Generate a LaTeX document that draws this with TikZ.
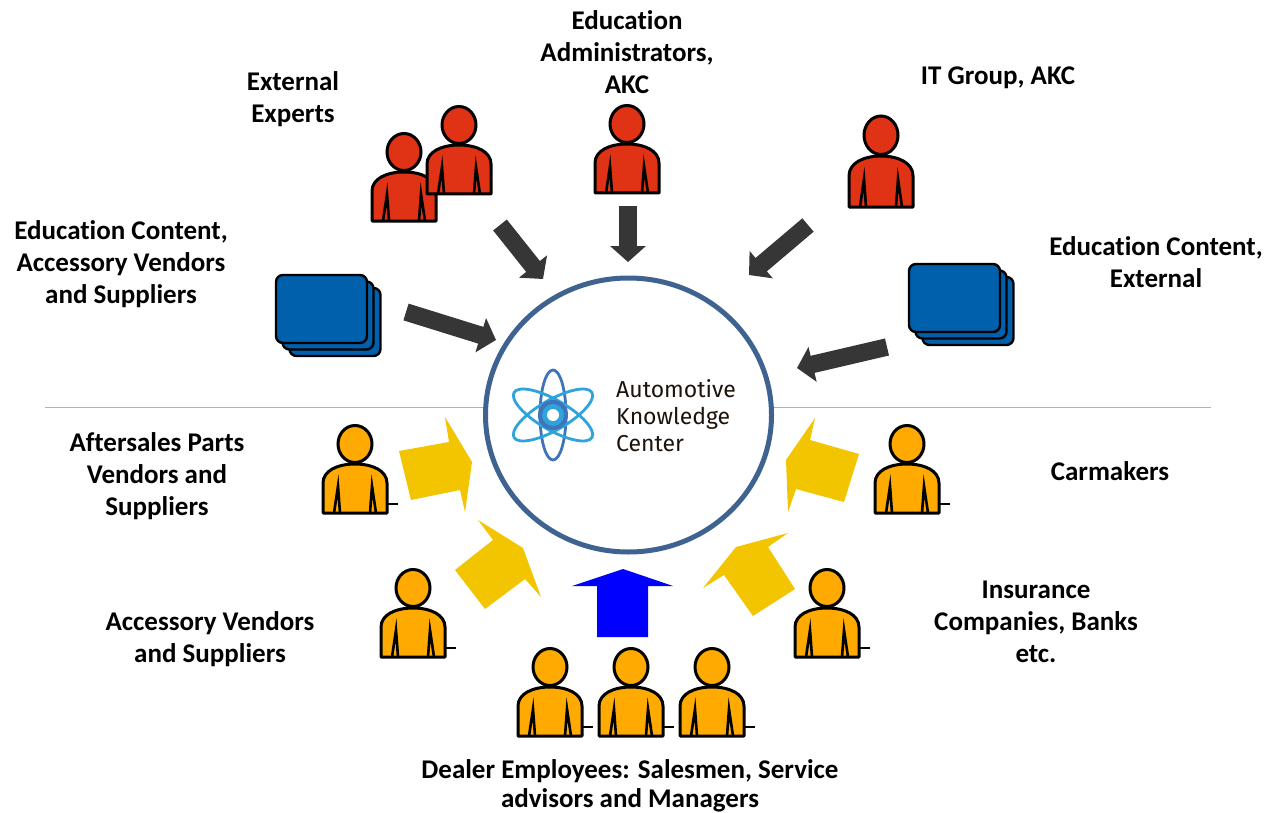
\documentclass[tikz,border=0pt]{standalone}
\usepackage{fontspec}
\usepackage{xcolor}
\setmainfont{Carlito}[Ligatures=NoCommon]
\newfontfamily\logofont{Fira Sans}
\usetikzlibrary{arrows.meta}
\usetikzlibrary{shapes.geometric}

\definecolor{redman}{HTML}{E03214}
\definecolor{orangeman}{HTML}{FFAA00}
\definecolor{cardblue}{HTML}{0060AC}
\definecolor{darkarrow}{HTML}{363636}
\definecolor{yellowarrow}{HTML}{F2C500}
\definecolor{ringblue}{HTML}{3F6391}
\definecolor{atomlight}{HTML}{2EA3DC}
\definecolor{atomdark}{HTML}{3F74B8}

\tikzset{
    label/.style={align=center,font=\fontsize{27}{32}\selectfont\bfseries},
    card/.style={draw=black,line width=2.4pt,fill=cardblue,rounded corners=7pt,minimum width=91pt,minimum height=68pt,inner sep=0pt},
    pushed/.style={-{Triangle[length=16pt,width=35pt]},line width=17.5pt,color=darkarrow},
    feed/.style={fill=yellowarrow,draw=none},
    person/.pic={
        \draw[line width=3pt,fill=#1] (0,-69) ellipse (17 and 18.5);
        \draw[line width=3pt,fill=#1,line join=round] (-32,0) -- (-32,-30) .. controls (-32,-42) and (-18,-49) .. (0,-49)
            .. controls (18,-49) and (32,-42) .. (32,-30) -- (32,0) -- cycle;
        \draw[line width=2.6pt] (-21,0) -- (-17,-27) -- (-15,0);
        \draw[line width=2.6pt] (21,0) -- (17,-27) -- (15,0);
    },
    tailed/.pic={
        \draw[line width=2.2pt] (32,-9) -- (43,-9);
        \pic {person=orangeman};
    },
}

\begin{document}
\begin{tikzpicture}[x=1pt,y=-1pt]
    \useasboundingbox (0,0) rectangle (1268,813);

    % divider and hub
    \draw[line width=1pt,color=black!30] (45,407) -- (1211,407);
    \node[ellipse,draw=ringblue,line width=5pt,fill=white,minimum width=286pt,minimum height=274pt,inner sep=0pt] (hub) at (628.5,415) {};

    % logo
    \begin{scope}[shift={(553,415)}]
        \draw[atomdark,line width=2.8pt] (0,0) ellipse (13 and 45);
        \draw[atomlight,line width=2.8pt,rotate=60] (0,0) ellipse (15 and 45);
        \draw[atomlight,line width=2.8pt,rotate=-60] (0,0) ellipse (15 and 45);
        \fill[atomdark] (0,0) circle (15);
        \fill[atomlight] (0,0) circle (11);
        \fill[white] (0,0) circle (6);
    \end{scope}
    \node[anchor=west,align=left,inner sep=0pt,color=black!85!brown,font=\logofont\fontsize{23}{27}\selectfont] (logotext) at (616,416) {Automotive\\Knowledge\\Center};

    % people on top
    \pic at (404,221) {person=redman};
    \pic at (459,194) {person=redman};
    \pic at (627,193) {person=redman};
    \pic[yscale=1.04] at (881,207) {person=redman};

    % content cards
    \node[card] (cardLc) at (335,322) {};
    \node[card] (cardLb) at (328,315.5) {};
    \node[card] (cardLa) at (321.5,309) {};
    \node[card] (cardRc) at (968,311) {};
    \node[card] (cardRb) at (961,304.5) {};
    \node[card] (cardRa) at (954.5,298) {};

    % people below
    \pic at (355,513) {tailed};
    \pic at (907,513) {tailed};
    \pic at (413,657) {tailed};
    \pic at (827,657) {tailed};
    \pic at (550,736) {tailed};
    \pic at (631,736) {tailed};
    \pic at (712,736) {tailed};

    % dark arrows
    \coordinate (extS) at (500,225);
    \coordinate (extE) at (543,279);
    \coordinate (admS) at (628,206);
    \coordinate (admE) at (628,262);
    \coordinate (itS) at (808,225);
    \coordinate (itE) at (749,275);
    \coordinate (conS) at (406,312);
    \coordinate (conE) at (496,340);
    \coordinate (cexS) at (887,347);
    \coordinate (cexE) at (797,368);
    \draw[pushed] (extS) -- (extE);
    \draw[pushed] (admS) -- (admE);
    \draw[pushed] (itS) -- (itE);
    \draw[pushed] (conS) -- (conE);
    \draw[pushed] (cexS) -- (cexE);

    % yellow arrows
    \fill[feed] (399,451) -- (449,442) -- (445,417) -- (472,462) -- (465,512) -- (460,490) -- (411,500) -- cycle;
    \fill[feed] (859,454) -- (810,440) -- (815,418) -- (786,460) -- (788,512) -- (796,489) -- (844,502) -- cycle;
    \fill[feed] (455,570) -- (493,540) -- (478,520) -- (523,548) -- (541,597) -- (525,579) -- (485,609) -- cycle;
    \fill[feed] (795,589) -- (768,547) -- (788,533) -- (736,547) -- (703,588) -- (724,575) -- (753,616) -- cycle;
    \fill[blue] (597,637) -- (648,637) -- (648,586) -- (673,586) -- (623,569) -- (572,586) -- (597,586) -- cycle;

    % labels
    \node[label] (lblExperts) at (293,99) {External\\Experts};
    \node[label] (lblAdmin) at (627,52) {Education\\Administrators,\\AKC};
    \node[label] (lblIT) at (998,78) {IT Group, AKC};
    \node[label] (lblVendors) at (121,264) {Education Content,\\Accessory Vendors\\and Suppliers};
    \node[label] (lblExternal) at (1156,262) {Education Content,\\External};
    \node[label] (lblParts) at (157,476) {Aftersales Parts\\Vendors and\\Suppliers};
    \node[label] (lblCarmakers) at (1110,471) {Carmakers};
    \node[label] (lblAccessory) at (210,639) {Accessory Vendors\\and Suppliers};
    \node[label] (lblBanks) at (1036,622) {Insurance\\Companies, Banks\\etc.};
    \node[label,inner sep=0pt] (lblDealer) at (630,785.5) {Dealer Employees: Salesmen, Service\\[-3pt]advisors and Managers};
\end{tikzpicture}
\end{document}
